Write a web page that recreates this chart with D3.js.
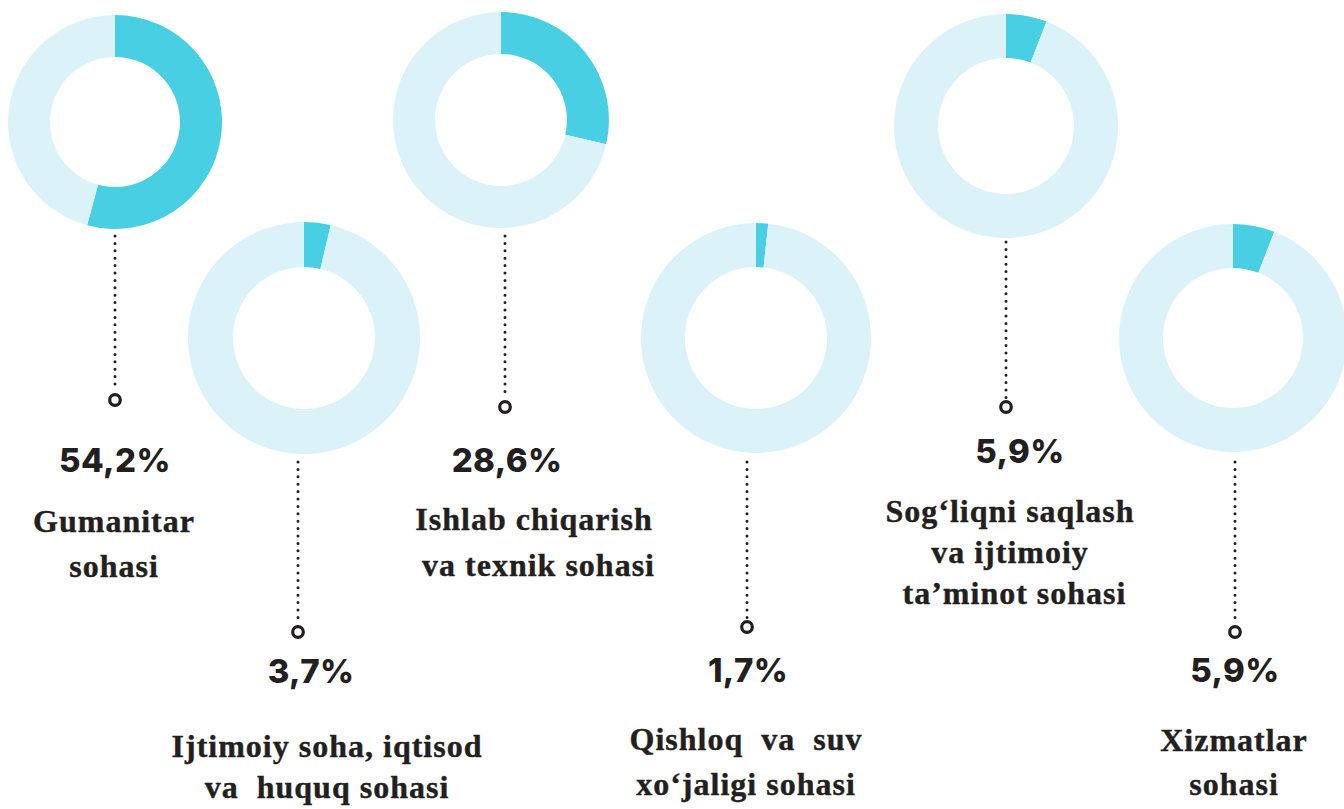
<!DOCTYPE html>
<html>
  <head>
    <meta charset="utf-8">
    <title>Sohalar bo'yicha ulush</title>
    <script src="https://cdn.jsdelivr.net/npm/d3@7"></script>
    <style>
      body { margin: 0; background: #fff; }
      svg { display: block; }
      .pct { font-family: Inter, "Noto Sans", sans-serif; font-weight: 800; font-size: 33px; fill: #231f20; letter-spacing: 0.4px; }
      .cat { font-family: "Liberation Serif", "Times New Roman", serif; font-weight: bold; font-size: 32px; fill: #231f20; white-space: pre; letter-spacing: 1px; stroke: #231f20; stroke-width: 0.4px; }
    </style>
  </head>
  <body>
    <div id="chart"></div>
    <script>
      // data
      const categories = [
        ["Gumanitar", "sohasi"],
        ["Ijtimoiy soha, iqtisod", "va  huquq sohasi"],
        ["Ishlab chiqarish", " va texnik sohasi"],
        ["Qishloq  va  suv", "xo\u2018jaligi sohasi"],
        ["Sog\u2018liqni saqlash", "va ijtimoiy", " ta\u2019minot sohasi"],
        ["Xizmatlar", "sohasi"]
      ];
      const values = [54.2, 3.7, 28.6, 1.7, 5.9, 5.9];

      // layout of each donut (centre, radii, connector, label anchors)
      const layout = [
        { cx: 115,  cy: 122, r: 107, r0: 65, lx: 115,  l0: 236, l1: 400, px: 115,  py: 472, tx: 114,  ty: 532, lh: 45 },
        { cx: 304,  cy: 338, r: 116, r0: 71, lx: 298,  l0: 462, l1: 632, px: 311,  py: 683, tx: 327,  ty: 757, lh: 41 },
        { cx: 501,  cy: 120, r: 108, r0: 66, lx: 505,  l0: 236, l1: 407, px: 507,  py: 472, tx: 534,  ty: 530, lh: 46 },
        { cx: 756,  cy: 338, r: 115, r0: 71, lx: 747,  l0: 462, l1: 627, px: 748,  py: 682, tx: 746,  ty: 750, lh: 45 },
        { cx: 1006, cy: 126, r: 112, r0: 68, lx: 1006, l0: 242, l1: 407, px: 1020, py: 463, tx: 1010, ty: 522, lh: 41 },
        { cx: 1233, cy: 338, r: 114, r0: 70, lx: 1235, l0: 462, l1: 632, px: 1235, py: 682, tx: 1234, ty: 751, lh: 44 }
      ];

      const width = 1344, height = 809;
      const fillColor = "#48cfe3", restColor = "#dbf3f8";

      const locale = d3.formatLocale({ decimal: ",", thousands: " ", grouping: [3], currency: ["", ""] });
      const fmt = locale.format(".1f");

      const svg = d3.select("#chart")
        .append("svg")
          .attr("width", width)
          .attr("height", height);

      const pie = d3.pie()
        .sort(null)
        .value(function(d) { return d; });

      const groups = svg.selectAll(".item")
          .data(values)
        .enter().append("g")
          .classed("item", true);

      // donuts
      groups.each(function(v, i) {
        const L = layout[i];
        const arc = d3.arc().innerRadius(L.r0).outerRadius(L.r);
        d3.select(this)
          .append("g")
            .attr("transform", "translate(" + L.cx + "," + L.cy + ")")
          .selectAll("path")
            .data(pie([v, 100 - v]))
          .enter().append("path")
            .attr("d", arc)
            .attr("fill", function(d, j) { return j === 0 ? fillColor : restColor; });
      });

      // dotted connector + ring marker
      groups.append("line")
        .attr("x1", function(d, i) { return layout[i].lx; })
        .attr("x2", function(d, i) { return layout[i].lx; })
        .attr("y1", function(d, i) { return layout[i].l0; })
        .attr("y2", function(d, i) { return layout[i].l1 - 9; })
        .attr("stroke", "#231f20")
        .attr("stroke-width", 3)
        .attr("stroke-linecap", "round")
        .attr("stroke-dasharray", "0,7.4");

      groups.append("circle")
        .attr("cx", function(d, i) { return layout[i].lx; })
        .attr("cy", function(d, i) { return layout[i].l1; })
        .attr("r", 5.3)
        .attr("fill", "#fff")
        .attr("stroke", "#231f20")
        .attr("stroke-width", 3.2);

      // percent labels
      groups.append("text")
        .classed("pct", true)
        .attr("x", function(d, i) { return layout[i].px; })
        .attr("y", function(d, i) { return layout[i].py; })
        .attr("text-anchor", "middle")
        .text(function(d) { return fmt(d) + "%"; });

      // category labels
      groups.append("text")
        .classed("cat", true)
        .attr("text-anchor", "middle")
        .each(function(d, i) {
          const L = layout[i];
          d3.select(this).selectAll("tspan")
              .data(categories[i])
            .enter().append("tspan")
              .attr("x", L.tx)
              .attr("y", function(s, j) { return L.ty + j * L.lh; })
              .text(function(s) { return s; });
        });
    </script>
  </body>
</html>
